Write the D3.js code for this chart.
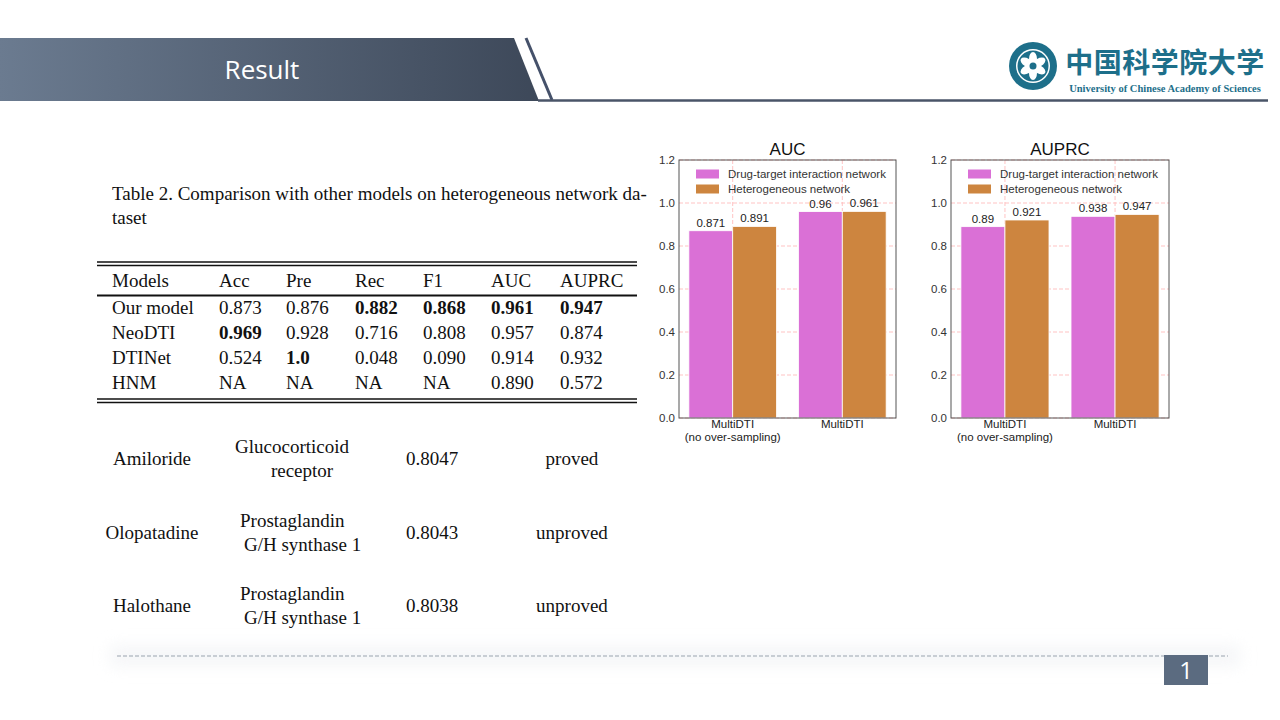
<!DOCTYPE html>
<html><head><meta charset="utf-8">
<script src="https://cdn.jsdelivr.net/npm/d3@7"></script>
<style>html,body{margin:0;padding:0;background:#fff;overflow:hidden}</style>
</head><body>
<svg id="slide" width="1280" height="720"></svg>
<script>
// ---------- data ----------
const slideTitle = "Result";
const pageNumber = "1";
const chartTitles = ["AUC", "AUPRC"];
const categories = [["MultiDTI", "(no over-sampling)"], ["MultiDTI"]];
const seriesNames = ["Drug-target interaction network", "Heterogeneous network"];
const aucDTI = [0.871, 0.96];
const aucHetero = [0.891, 0.961];
const auprcDTI = [0.89, 0.938];
const auprcHetero = [0.921, 0.947];
const yTicks = [0.0, 0.2, 0.4, 0.6, 0.8, 1.0, 1.2];

const tableCaption = ["Table 2. Comparison with other models on heterogeneous network da-", "taset"];
const tableHeader = ["Models", "Acc", "Pre", "Rec", "F1", "AUC", "AUPRC"];
const tableModels = ["Our model", "NeoDTI", "DTINet", "HNM"];
const tableValues = [
  ["0.873", "0.876", "0.882", "0.868", "0.961", "0.947"],
  ["0.969", "0.928", "0.716", "0.808", "0.957", "0.874"],
  ["0.524", "1.0", "0.048", "0.090", "0.914", "0.932"],
  ["NA", "NA", "NA", "NA", "0.890", "0.572"]
];
const tableBold = [
  [false, false, true, true, true, true],
  [true, false, false, false, false, false],
  [false, true, false, false, false, false],
  [false, false, false, false, false, false]
];
const drugs = ["Amiloride", "Olopatadine", "Halothane"];
const targets = [["Glucocorticoid", "receptor"], ["Prostaglandin", "G/H synthase 1"], ["Prostaglandin", "G/H synthase 1"]];
const scores = ["0.8047", "0.8043", "0.8038"];
const statuses = ["proved", "unproved", "unproved"];

// ---------- drawing ----------
const svg = d3.select("#slide");
const defs = svg.append("defs");
const grad = defs.append("linearGradient").attr("id", "hdr").attr("x1", "0").attr("x2", "1");
grad.append("stop").attr("offset", "0").attr("stop-color", "#6b7b90");
grad.append("stop").attr("offset", "1").attr("stop-color", "#3d4859");
const blur = defs.append("filter").attr("id", "soft").attr("x", "-10%").attr("y", "-200%").attr("width", "120%").attr("height", "500%");
blur.append("feGaussianBlur").attr("stdDeviation", 8);

// header band
svg.append("path").attr("d", "M0,38 L514,38 L539,101 L0,101 Z").attr("fill", "url(#hdr)");
svg.append("line").attr("x1", 526).attr("y1", 38).attr("x2", 552).attr("y2", 100)
  .attr("stroke", "#45516a").attr("stroke-width", 3);
svg.append("line").attr("x1", 538).attr("y1", 100.5).attr("x2", 1268).attr("y2", 100.5)
  .attr("stroke", "#4a5568").attr("stroke-width", 2.5);
svg.append("text").attr("x", 262).attr("y", 79).attr("text-anchor", "middle")
  .attr("font-family", "'Open Sans', Lato, sans-serif").attr("font-size", 26).attr("fill", "#fff").text(slideTitle);

// logo
const logo = svg.append("g").attr("transform", "translate(1033,66)");
logo.append("circle").attr("r", 24).attr("fill", "#1d6f8a");
logo.append("circle").attr("r", 17).attr("fill", "#fff");
logo.append("circle").attr("r", 15.5).attr("fill", "#1d6f8a");
for (let i = 0; i < 6; i++) {
  logo.append("ellipse").attr("cx", 0).attr("cy", -7).attr("rx", 4).attr("ry", 7)
    .attr("fill", "#fff").attr("transform", `rotate(${i * 60})`);
}
logo.append("circle").attr("r", 3.5).attr("fill", "#1d6f8a");
svg.append("text").attr("x", 1165).attr("y", 73).attr("text-anchor", "middle")
  .attr("font-family", "'Noto Sans CJK SC', sans-serif").attr("font-weight", "bold")
  .attr("font-size", 28).attr("letter-spacing", 0.5).attr("fill", "#1d6f8a").text("中国科学院大学");
svg.append("text").attr("x", 1165).attr("y", 92).attr("text-anchor", "middle")
  .attr("font-family", "'Liberation Serif', serif").attr("font-weight", "bold")
  .attr("font-size", 10.5).attr("fill", "#1d6f8a").text("University of  Chinese Academy of Sciences");

// table caption
const serif = "'Liberation Serif', 'Times New Roman', serif";
svg.append("text").attr("x", 112).attr("y", 200).attr("font-family", serif).attr("font-size", 19)
  .attr("fill", "#111").text(tableCaption[0]);
svg.append("text").attr("x", 112).attr("y", 224).attr("font-family", serif).attr("font-size", 19)
  .attr("fill", "#111").text(tableCaption[1]);

// table
const colX = [112, 219, 286, 355, 423, 491, 560];
const rowY = d3.scalePoint().domain(d3.range(tableModels.length)).range([308, 383]);
const tbl = svg.append("g").attr("font-family", serif).attr("font-size", 19).attr("fill", "#111");
[262, 265.5, 399, 402.5].forEach(y => tbl.append("line").attr("x1", 97).attr("x2", 637).attr("y1", y).attr("y2", y)
  .attr("stroke", "#111").attr("stroke-width", 1.3));
tbl.append("line").attr("x1", 97).attr("x2", 637).attr("y1", 295.5).attr("y2", 295.5).attr("stroke", "#111").attr("stroke-width", 1.8);
tableHeader.forEach((h, j) => tbl.append("text").attr("x", colX[j]).attr("y", 287).text(h));
tableModels.forEach((m, i) => {
  tbl.append("text").attr("x", colX[0]).attr("y", rowY(i) + 6).text(m);
  tableValues[i].forEach((v, j) => tbl.append("text").attr("x", colX[j + 1]).attr("y", rowY(i) + 6)
    .attr("font-weight", tableBold[i][j] ? "bold" : "normal").text(v));
});

// candidate list
const candY = d3.scalePoint().domain(d3.range(drugs.length)).range([459, 606]);
const cand = svg.append("g").attr("font-family", serif).attr("font-size", 19).attr("fill", "#111");
drugs.forEach((d, i) => {
  const y = candY(i);
  cand.append("text").attr("x", 152).attr("y", y + 6).attr("text-anchor", "middle").text(d);
  const t = targets[i];
  if (i === 0) {
    cand.append("text").attr("x", 292).attr("y", y - 6).attr("text-anchor", "middle").text(t[0]);
    cand.append("text").attr("x", 302).attr("y", y + 18).attr("text-anchor", "middle").text(t[1]);
  } else {
    cand.append("text").attr("x", 240).attr("y", y - 6).text(t[0]);
    cand.append("text").attr("x", 244).attr("y", y + 18).text(t[1]);
  }
  cand.append("text").attr("x", 432).attr("y", y + 6).attr("text-anchor", "middle").text(scores[i]);
  cand.append("text").attr("x", 572).attr("y", y + 6).attr("text-anchor", "middle").text(statuses[i]);
});

// footer
svg.append("rect").attr("x", 110).attr("y", 646).attr("width", 1130).attr("height", 20).attr("fill", "#eef0f3")
  .attr("opacity", 0.6).attr("filter", "url(#soft)");
svg.append("line").attr("x1", 117).attr("x2", 1228).attr("y1", 656).attr("y2", 656)
  .attr("stroke", "#9aa3ae").attr("stroke-width", 1).attr("stroke-dasharray", "4,2");
svg.append("rect").attr("x", 1164).attr("y", 655).attr("width", 44).attr("height", 30).attr("fill", "#5b6b80");
svg.append("text").attr("x", 1186).attr("y", 679).attr("text-anchor", "middle")
  .attr("font-family", "'Open Sans', sans-serif").attr("font-size", 24).attr("fill", "#fff").text(pageNumber);

// bar charts
const colors = ["#da70d6", "#cd853f"];
const sans = "'Liberation Sans', Arial, sans-serif";
function drawChart(left, right, title, s1, s2) {
  const top = 160, bottom = 418;
  const g = svg.append("g");
  const x = d3.scaleLinear().domain([-0.49, 1.49]).range([left, right]);
  const y = d3.scaleLinear().domain([0, 1.2]).range([bottom, top]);
  // grid
  g.append("g").selectAll("line").data(yTicks).join("line")
    .attr("x1", left).attr("x2", right).attr("y1", d => y(d)).attr("y2", d => y(d))
    .attr("stroke", "#ffbcbc").attr("stroke-width", 0.9).attr("stroke-dasharray", "4,2");
  g.append("g").selectAll("line").data(categories.map((c, i) => i)).join("line")
    .attr("x1", d => x(d)).attr("x2", d => x(d)).attr("y1", top).attr("y2", bottom)
    .attr("stroke", "#ffbcbc").attr("stroke-width", 0.9).attr("stroke-dasharray", "4,2");
  // bars
  const series = [s1, s2];
  series.forEach((vals, k) => {
    g.append("g").selectAll("rect").data(vals).join("rect")
      .attr("x", (d, i) => x(i - 0.4 + 0.4 * k)).attr("width", x(0.4) - x(0))
      .attr("y", d => y(d)).attr("height", d => bottom - y(d))
      .attr("fill", colors[k]).attr("stroke", "#fff").attr("stroke-width", 0.8);
    g.append("g").selectAll("text").data(vals).join("text")
      .attr("x", (d, i) => x(i - 0.2 + 0.4 * k)).attr("y", d => y(d) - 4)
      .attr("text-anchor", "middle").attr("font-family", sans).attr("font-size", 11.5).attr("fill", "#222")
      .text(d => String(d));
  });
  // frame
  g.append("rect").attr("x", left).attr("y", top).attr("width", right - left).attr("height", bottom - top)
    .attr("fill", "none").attr("stroke", "#555").attr("stroke-width", 1);
  // y axis
  const ya = g.append("g").attr("transform", `translate(${left},0)`)
    .call(d3.axisLeft(y).tickValues(yTicks).tickFormat(d3.format(".1f")).tickSize(0).tickPadding(4));
  ya.select(".domain").remove();
  ya.selectAll("text").attr("font-family", sans).attr("font-size", 11.5).attr("fill", "#333");
  // x labels
  categories.forEach((lines, i) => {
    lines.forEach((ln, j) => g.append("text").attr("x", x(i)).attr("y", bottom + 10 + j * 13)
      .attr("text-anchor", "middle").attr("font-family", sans).attr("font-size", 11.5).attr("fill", "#222").text(ln));
  });
  // title
  g.append("text").attr("x", (left + right) / 2).attr("y", 155).attr("text-anchor", "middle")
    .attr("font-family", sans).attr("font-size", 17).attr("fill", "#111").text(title);
  // legend
  seriesNames.forEach((n, k) => {
    const ly = 174 + k * 15;
    g.append("rect").attr("x", left + 17).attr("y", ly - 4.5).attr("width", 23).attr("height", 9).attr("fill", colors[k]);
    g.append("text").attr("x", left + 49).attr("y", ly + 4).attr("font-family", sans).attr("font-size", 11.5)
      .attr("fill", "#333").text(n);
  });
}
drawChart(679, 896, chartTitles[0], aucDTI, aucHetero);
drawChart(951, 1169, chartTitles[1], auprcDTI, auprcHetero);
</script>
</body></html>
